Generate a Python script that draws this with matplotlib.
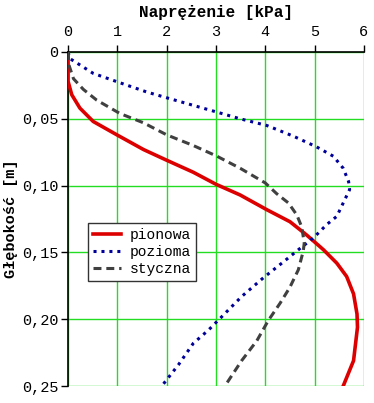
import matplotlib
matplotlib.use('Agg')
import matplotlib.pyplot as plt
import numpy as np

plt.rcParams['font.family'] = ['Liberation Mono', 'DejaVu Sans Mono']

# depth [m] and stress [kPa]
depth_pion = [0, 0.022, 0.032, 0.042, 0.052, 0.062, 0.073, 0.081, 0.090, 0.099, 0.107, 0.118,
              0.127, 0.137, 0.148, 0.158, 0.168, 0.181, 0.196, 0.206, 0.231, 0.25]
val_pion = [0, 0.0, 0.075, 0.24, 0.51, 0.99, 1.53, 2.0, 2.54, 3.0, 3.49, 4.03,
            4.50, 4.84, 5.18, 5.45, 5.65, 5.79, 5.86, 5.87, 5.79, 5.58]

depth_poz = [0, 0.005, 0.016, 0.023, 0.030, 0.035, 0.045, 0.050, 0.055, 0.063, 0.071, 0.078,
             0.087, 0.097, 0.103, 0.113, 0.123, 0.129, 0.139, 0.148, 0.157, 0.169, 0.183,
             0.198, 0.208, 0.218, 0.234, 0.25]
val_poz = [0, 0.04, 0.51, 1.05, 1.60, 2.07, 3.02, 3.49, 4.03, 4.57, 5.04, 5.38,
           5.58, 5.69, 5.71, 5.58, 5.45, 5.25, 4.98, 4.67, 4.37, 3.96, 3.52,
           3.12, 2.85, 2.54, 2.24, 1.90]

depth_sty = [0, 0.010, 0.020, 0.028, 0.036, 0.046, 0.053, 0.062, 0.070, 0.078, 0.087, 0.098,
             0.106, 0.113, 0.122, 0.131, 0.143, 0.149, 0.163, 0.176, 0.188, 0.201, 0.216,
             0.231, 0.25]
val_sty = [0, 0.02, 0.11, 0.31, 0.58, 1.05, 1.53, 2.0, 2.54, 3.02, 3.49, 4.0,
           4.23, 4.47, 4.64, 4.74, 4.79, 4.77, 4.67, 4.50, 4.30, 4.06, 3.83,
           3.52, 3.18]

xticks = [0, 1, 2, 3, 4, 5, 6]
yticks = [0, 0.05, 0.10, 0.15, 0.20, 0.25]
ytick_labels = ['0', '0,05', '0,10', '0,15', '0,20', '0,25']

fig = plt.figure(figsize=(3.74, 4.03), dpi=100)
ax = fig.add_axes([0.182, 0.042, 0.791, 0.829])

ax.plot(val_pion, depth_pion, color='#dd0000', lw=2.6, label='pionowa', zorder=3)
ax.plot(val_poz, depth_poz, color='#000099', lw=2.2, ls=(0, (1, 1.6)), label='pozioma', zorder=3)
ax.plot(val_sty, depth_sty, color='#404040', lw=2.2, ls=(0, (2.6, 1.6)), label='styczna', zorder=3)

ax.set_xlim(0, 6)
ax.set_ylim(0.25, 0)
ax.set_xticks(xticks)
ax.set_yticks(yticks)
ax.set_yticklabels(ytick_labels)
ax.xaxis.tick_top()
ax.xaxis.set_label_position('top')
ax.tick_params(axis='both', labelsize=11, length=5, width=1, color='black', pad=2)
ax.tick_params(axis='x', pad=4)
ax.grid(True, color='#22dd22', lw=1)
ax.set_axisbelow(True)
for s in ['right', 'bottom']:
    ax.spines[s].set_visible(False)
for s in ['top', 'left']:
    ax.spines[s].set_linewidth(1.2)

ax.set_xlabel('Naprężenie [kPa]', fontsize=11.5, fontweight='bold', labelpad=6)
ax.set_ylabel('Głębokość [m]', fontsize=11, fontweight='bold', labelpad=3)

leg = ax.legend(loc='upper left', bbox_to_anchor=(0.068, 0.487), borderaxespad=0,
                fontsize=10.5, handlelength=1.9, fancybox=False, framealpha=1,
                edgecolor='#333333', labelspacing=0.2, borderpad=0.35, handletextpad=0.6)
leg.get_frame().set_linewidth(1)

fig.savefig('out.png', dpi=100)
